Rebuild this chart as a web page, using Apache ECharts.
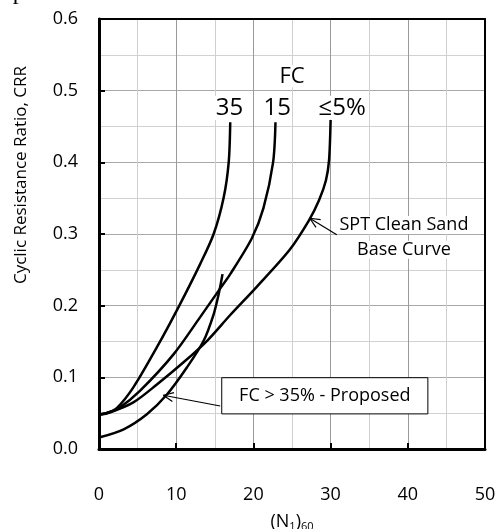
<!DOCTYPE html>
<html><head><meta charset="utf-8">
<script src="https://cdn.jsdelivr.net/npm/echarts@6/dist/echarts.min.js"></script>
<style>html,body{margin:0;padding:0;background:#fff}#c{width:499px;height:529px}</style>
</head><body><div id="c"></div>
<script>
// ---- data ----
const xTickValues = [0, 10, 20, 30, 40, 50];
const yTickValues = [0.0, 0.1, 0.2, 0.3, 0.4, 0.5, 0.6];

const baseX = [0, 1.4, 4.45, 7.5, 10.95, 14.0, 17.0, 20.4, 24.7, 27.2, 28.5, 29.4, 29.8, 30.0];
const baseY = [0.048, 0.051, 0.065, 0.090, 0.121, 0.151, 0.187, 0.226, 0.278, 0.319, 0.347, 0.375, 0.403, 0.459];

const fc15X = [0, 1.2, 2.7, 5.3, 9.65, 13.1, 15.5, 17.0, 19.8, 21.3, 22.55, 22.86];
const fc15Y = [0.048, 0.051, 0.058, 0.081, 0.132, 0.184, 0.221, 0.244, 0.294, 0.336, 0.400, 0.456];

const fc35X = [0, 1.0, 2.3, 4.45, 7.5, 10.3, 13.1, 14.85, 16.15, 16.8, 17.0];
const fc35Y = [0.048, 0.050, 0.057, 0.086, 0.142, 0.198, 0.258, 0.300, 0.351, 0.400, 0.456];

const propX = [0, 3.2, 6.2, 8.8, 11.4, 13.55, 14.85, 15.5, 16.0];
const propY = [0.016, 0.0275, 0.0485, 0.076, 0.114, 0.151, 0.188, 0.216, 0.244];

const curveLabels = ['35', '15', '≤5%'];
const fcTitle = 'FC';
const baseNote = ['SPT Clean Sand', 'Base Curve'];
const propNote = 'FC > 35% - Proposed';

// ---- layout ----
const GRID = {left: 99, right: 14, top: 19, bottom: 80};
const W = 499, H = 529;
const L = {
  labelPos: [[16.9, 0.476], [23.1, 0.476], [31.5, 0.476]],
  fcPos: [25.0, 0.520],
  baseNotePos: [[39.5, 0.3125], [39.5, 0.278]],
  baseArrow: {tip: [27.3, 0.322], tail: [30.8, 0.299]},
  propBox: {tl: [15.9, 0.0995], br: [42.6, 0.049]},
  propArrow: {tip: [8.33, 0.075], tail: [15.7, 0.060]}
};

const FONT = '"Open Sans", "Noto Sans", sans-serif';
const zip = (a, b) => a.map((v, i) => [v, b[i]]);
const xMin = xTickValues[0], xMax = xTickValues[xTickValues.length - 1];
const yMin = yTickValues[0], yMax = yTickValues[yTickValues.length - 1];

const chart = echarts.init(document.getElementById('c'), null, {renderer: 'canvas'});

const lineSeries = (name, xs, ys) => ({
  name, type: 'line', data: zip(xs, ys), showSymbol: false, smooth: 0.3,
  lineStyle: {color: '#000', width: 2.5}, z: 5, animation: false
});

const hiddenAxisBits = {
  axisLabel: {show: false}, axisTick: {show: false}, splitLine: {show: false}
};

chart.setOption({
  animation: false,
  backgroundColor: '#fff',
  grid: Object.assign({outerBoundsMode: 'none', containLabel: false}, GRID),
  xAxis: [{
    type: 'value', min: xMin, max: xMax, interval: 10, position: 'bottom', z: 3,
    axisLine: {show: true, onZero: false, lineStyle: {color: '#000', width: 3}},
    axisTick: {show: true, inside: true, length: 6, lineStyle: {color: '#000', width: 2}},
    axisLabel: {margin: 37, fontSize: 18, color: '#000', fontFamily: FONT},
    splitLine: {show: true, lineStyle: {color: '#9a9a9a', width: 1}},
    minorTick: {show: false, splitNumber: 2},
    minorSplitLine: {show: true, lineStyle: {color: '#cfcfcf', width: 1}},
    name: '(N{s|1}){s|60}', nameLocation: 'middle', nameGap: 62,
    nameTextStyle: {fontSize: 18, color: '#000', fontFamily: FONT,
      rich: {s: {fontSize: 11, verticalAlign: 'bottom', padding: [10, 0, 0, 0], fontFamily: FONT, color: '#000'}}}
  }, {
    type: 'value', min: xMin, max: xMax, position: 'top', z: 3,
    axisLine: {show: true, onZero: false, lineStyle: {color: '#000', width: 2}}, ...hiddenAxisBits
  }],
  yAxis: [{
    type: 'value', min: yMin, max: yMax, interval: 0.1, position: 'left', z: 3,
    axisLine: {show: true, onZero: false, lineStyle: {color: '#000', width: 3}},
    axisTick: {show: true, inside: true, length: 6, lineStyle: {color: '#000', width: 2}},
    axisLabel: {margin: 21, fontSize: 18, color: '#000', fontFamily: FONT, formatter: v => v.toFixed(1)},
    splitLine: {show: true, lineStyle: {color: '#a8a8a8', width: 1}},
    minorTick: {show: false, splitNumber: 2},
    minorSplitLine: {show: true, lineStyle: {color: '#d2d2d2', width: 1}}
  }, {
    type: 'value', min: yMin, max: yMax, position: 'right', z: 3,
    axisLine: {show: true, onZero: false, lineStyle: {color: '#000', width: 2}}, ...hiddenAxisBits
  }],
  series: [
    lineSeries('≤5%', baseX, baseY),
    lineSeries('15', fc15X, fc15Y),
    lineSeries('35', fc35X, fc35Y),
    lineSeries('FC>35% Proposed', propX, propY)
  ]
});

// annotation positions mapped through the same grid/axis extents (annotations only)
const P = p => [
  GRID.left + (p[0] - xMin) / (xMax - xMin) * (W - GRID.left - GRID.right),
  GRID.top + (yMax - p[1]) / (yMax - yMin) * (H - GRID.top - GRID.bottom)
];

const zr = chart.getZr();
const G = echarts.graphic;
const addText = (x, y, text, font, extra) => zr.add(new G.Text(Object.assign({
  x, y, z: 10,
  style: Object.assign({text, font, fill: '#000', align: 'center', verticalAlign: 'middle'}, extra || {})
})));

function arrow(tip, tail) {
  const a = P(tip), b = P(tail);
  const ang = Math.atan2(b[1] - a[1], b[0] - a[0]);
  const w = 11, spread = 0.42;
  const w1 = [a[0] + w * Math.cos(ang + spread), a[1] + w * Math.sin(ang + spread)];
  const w2 = [a[0] + w * Math.cos(ang - spread), a[1] + w * Math.sin(ang - spread)];
  zr.add(new G.Line({shape: {x1: a[0], y1: a[1], x2: b[0], y2: b[1]}, style: {stroke: '#000', lineWidth: 1.2}, z: 10}));
  zr.add(new G.Line({shape: {x1: w1[0], y1: w1[1], x2: a[0], y2: a[1]}, style: {stroke: '#000', lineWidth: 1.2}, z: 10}));
  zr.add(new G.Line({shape: {x1: w2[0], y1: w2[1], x2: a[0], y2: a[1]}, style: {stroke: '#000', lineWidth: 1.2}, z: 10}));
}

zr.add(new G.Text({x: -10, y: 5, z: 10, style: {text: 'paper.', font: '24px "Liberation Serif", serif', fill: '#000', align: 'left', verticalAlign: 'bottom'}}));

curveLabels.forEach((t, i) => {
  const p = P(L.labelPos[i]);
  addText(p[0], p[1], t, '24px ' + FONT, {backgroundColor: '#fff', padding: [0, 1]});
});
{
  const p = P(L.fcPos);
  addText(p[0], p[1], fcTitle, '22px ' + FONT, {backgroundColor: '#fff', padding: [0, 1]});
}
baseNote.forEach((t, i) => {
  const p = P(L.baseNotePos[i]);
  addText(p[0], p[1], t, '18px ' + FONT, {backgroundColor: '#fff', padding: [0, 1]});
});
arrow(L.baseArrow.tip, L.baseArrow.tail);
{
  const a = P(L.propBox.tl), b = P(L.propBox.br);
  zr.add(new G.Rect({shape: {x: a[0], y: a[1], width: b[0] - a[0], height: b[1] - a[1]}, style: {fill: '#fff', stroke: '#000', lineWidth: 1}, z: 10}));
  zr.add(new G.Text({x: (a[0] + b[0]) / 2, y: (a[1] + b[1]) / 2, z: 11, style: {text: propNote, font: '18px ' + FONT, fill: '#000', align: 'center', verticalAlign: 'middle'}}));
}
arrow(L.propArrow.tip, L.propArrow.tail);
zr.add(new G.Text({x: 21, y: 175, rotation: Math.PI / 2, z: 10, style: {text: 'Cyclic Resistance Ratio, CRR', font: '17px ' + FONT, fill: '#000', align: 'center', verticalAlign: 'middle'}}));
</script>
</body></html>
